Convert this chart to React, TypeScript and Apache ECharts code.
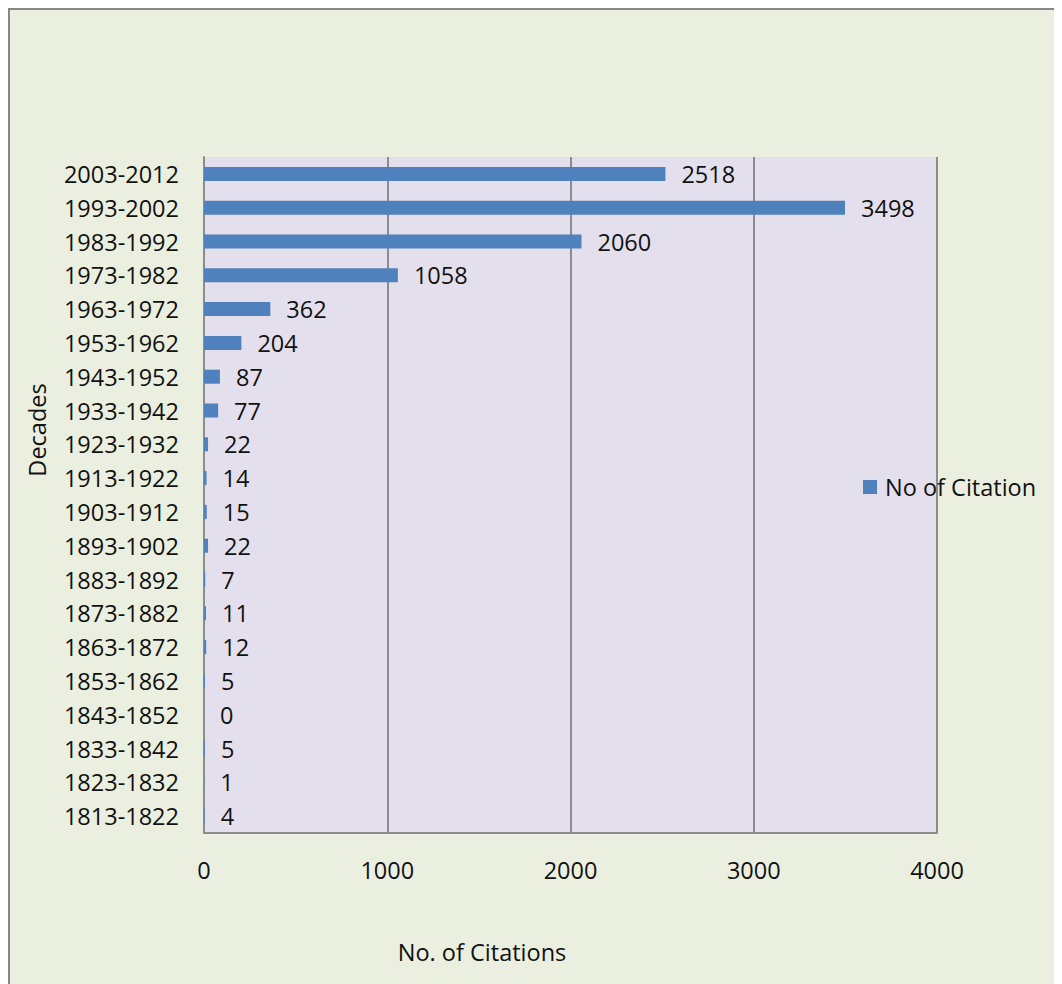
import React, { useEffect, useRef } from "react";
import * as echarts from "echarts";

// Citation counts per decade, listed from the newest decade to the oldest
const decades = [
  "2003-2012", "1993-2002", "1983-1992", "1973-1982", "1963-1972",
  "1953-1962", "1943-1952", "1933-1942", "1923-1932", "1913-1922",
  "1903-1912", "1893-1902", "1883-1892", "1873-1882", "1863-1872",
  "1853-1862", "1843-1852", "1833-1842", "1823-1832", "1813-1822",
];
const citations = [
  2518, 3498, 2060, 1058, 362, 204, 87, 77, 22, 14,
  15, 22, 7, 11, 12, 5, 0, 5, 1, 4,
];
const seriesName = "No of Citation";
const xTicks = [0, 1000, 2000, 3000, 4000];

const FONT = '"Open Sans", "Liberation Sans", sans-serif';
const FS = 23.5;
const TEXT = "#111111";
const GRID_LINE = "#8c8c8c";

export default function App() {
  const ref = useRef<HTMLDivElement>(null);

  useEffect(() => {
    if (!ref.current) return;
    const chart = echarts.init(ref.current, undefined, { renderer: "svg" });
    chart.setOption({
      animation: false,
      backgroundColor: "#EBEFE0",
      textStyle: { fontFamily: FONT },
      grid: {
        left: 196,
        top: 149,
        width: 733,
        height: 676,
        show: true,
        backgroundColor: "#E4DFEC",
        borderWidth: 0,
        containLabel: false,
      },
      legend: {
        left: 855,
        top: 467,
        padding: 0,
        itemWidth: 14,
        itemHeight: 14,
        itemGap: 6,
        icon: "rect",
        textStyle: {
          fontSize: FS,
          color: TEXT,
          fontFamily: FONT,
          padding: [0, 0, 0, 3],
        },
        data: [seriesName],
      },
      xAxis: {
        type: "value",
        min: xTicks[0],
        max: xTicks[xTicks.length - 1],
        interval: 1000,
        axisLine: { show: true, lineStyle: { color: GRID_LINE, width: 2 } },
        axisTick: { show: false },
        axisLabel: {
          margin: 25,
          fontSize: FS,
          color: TEXT,
          fontFamily: FONT,
          formatter: (v: number) => String(v),
        },
        splitLine: { show: true, lineStyle: { color: GRID_LINE, width: 2 } },
      },
      yAxis: {
        type: "category",
        inverse: true,
        data: decades,
        axisLine: { show: true, lineStyle: { color: GRID_LINE, width: 2 } },
        axisTick: { show: false },
        axisLabel: {
          margin: 25,
          fontSize: FS,
          color: TEXT,
          fontFamily: FONT,
        },
        splitLine: { show: false },
      },
      series: [
        {
          name: seriesName,
          type: "bar",
          data: citations,
          barWidth: 14,
          itemStyle: { color: "#4F81BD" },
          label: {
            show: true,
            position: "right",
            distance: 16,
            fontSize: FS,
            color: TEXT,
            fontFamily: FONT,
          },
        },
      ],
      graphic: [
        {
          type: "rect",
          shape: { x: 1, y: 1, width: 1200, height: 1200 },
          style: { fill: "none", stroke: "#878787", lineWidth: 2 },
          silent: true,
          z: 100,
        },
        {
          type: "text",
          x: 29,
          y: 422,
          rotation: Math.PI / 2,
          style: {
            text: "Decades",
            fontSize: FS,
            fontFamily: FONT,
            fill: TEXT,
            align: "center",
            verticalAlign: "middle",
          },
        },
        {
          type: "text",
          x: 474,
          y: 944,
          style: {
            text: "No. of Citations",
            fontSize: FS,
            fontFamily: FONT,
            fill: TEXT,
            align: "center",
            verticalAlign: "middle",
          },
        },
      ],
    });
    return () => chart.dispose();
  }, []);

  return <div ref={ref} style={{ width: 1054, height: 976 }} />;
}
